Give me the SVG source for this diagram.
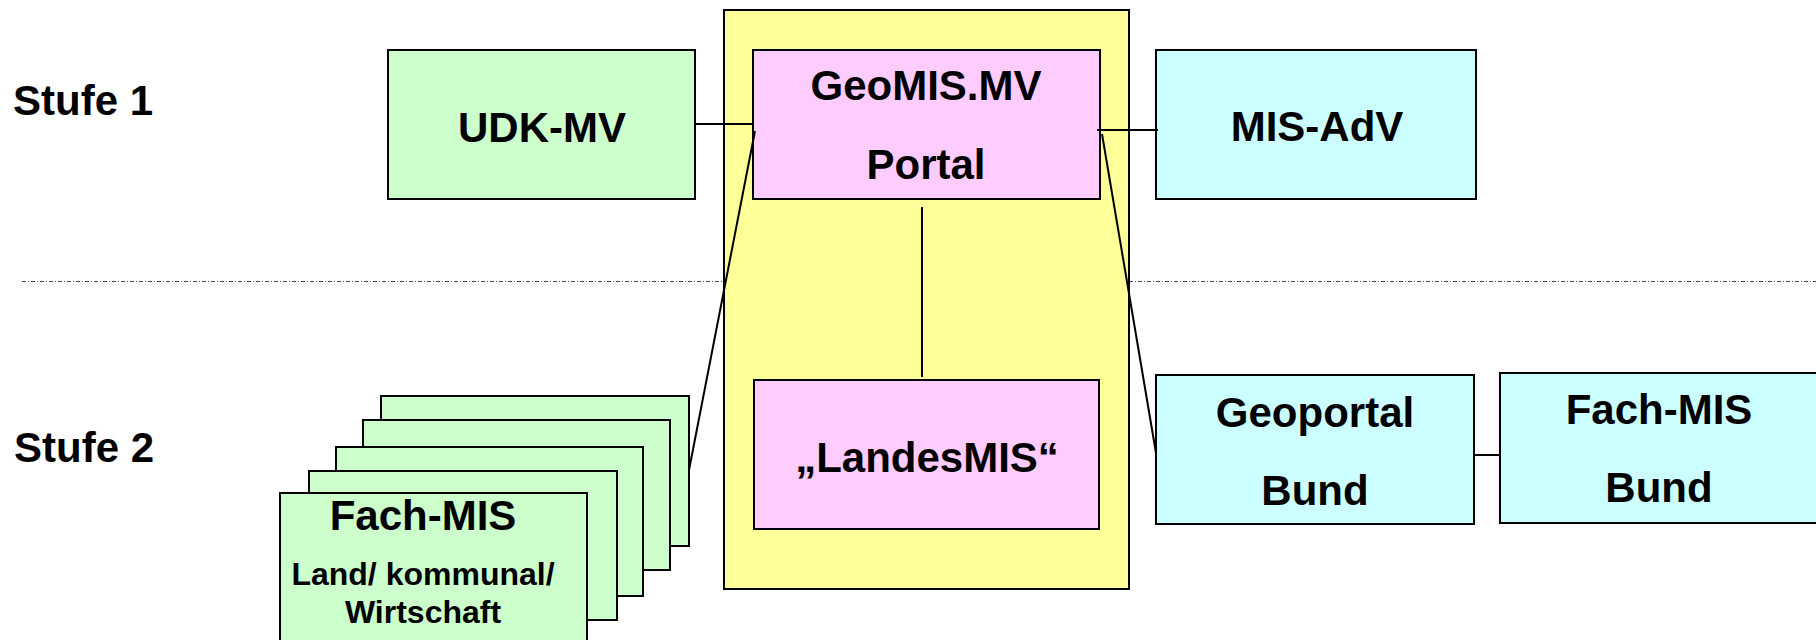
<svg xmlns="http://www.w3.org/2000/svg" width="1816" height="640" viewBox="0 0 1816 640">
<style>
text{font-family:"Liberation Sans",Arial,sans-serif;font-weight:bold;fill:#000;text-anchor:middle}
.lbl{text-anchor:start;font-size:42px}
.t42{font-size:42px}
.t32{font-size:32px}
.box{stroke:#000;stroke-width:2}
.green{fill:#CCFFCC}
.pink{fill:#FFCCFF}
.cyan{fill:#CCFFFF}
.yellow{fill:#FFFF99}
.con{stroke:#000;stroke-width:2;fill:none}
.sep{stroke:#444;stroke-width:1;stroke-dasharray:4 2 1 2;fill:none}
</style>
<rect width="1816" height="640" fill="#fff"/>
<line class="sep" x1="22" y1="281.5" x2="1816" y2="281.5"/>
<text class="lbl" x="13" y="115">Stufe 1</text>
<text class="lbl" x="14" y="462">Stufe 2</text>
<g id="landesebene">
<rect class="box yellow" x="724" y="10" width="405" height="579"/>
</g>
<g id="udk-mv">
<rect class="box green" x="388" y="50" width="307" height="149"/>
<text class="t42" x="542" y="142">UDK-MV</text>
</g>
<g id="geomis-portal">
<rect class="box pink" x="753" y="50" width="347" height="149"/>
<text class="t42" x="926" y="100">GeoMIS.MV</text>
<text class="t42" x="926" y="179">Portal</text>
</g>
<g id="mis-adv">
<rect class="box cyan" x="1156" y="50" width="320" height="149"/>
<text class="t42" x="1317" y="141">MIS-AdV</text>
</g>
<g id="landesmis">
<rect class="box pink" x="754" y="380" width="345" height="149"/>
<text class="t42" x="927" y="472">„LandesMIS“</text>
</g>
<g id="fach-mis-land">
<rect class="box green" x="381" y="396" width="308" height="150"/>
<rect class="box green" x="363" y="420" width="307" height="150"/>
<rect class="box green" x="336" y="447" width="307" height="149"/>
<rect class="box green" x="309" y="471" width="308" height="149"/>
<rect class="box green" x="280" y="493" width="307" height="152"/>
<text class="t42" x="423" y="530">Fach-MIS</text>
<text class="t32" x="423" y="585">Land/ kommunal/</text>
<text class="t32" x="423" y="623">Wirtschaft</text>
</g>
<g id="geoportal-bund">
<rect class="box cyan" x="1156" y="375" width="318" height="149"/>
<text class="t42" x="1315" y="427">Geoportal</text>
<text class="t42" x="1315" y="505">Bund</text>
</g>
<g id="fach-mis-bund">
<rect class="box cyan" x="1500" y="373" width="320" height="150"/>
<text class="t42" x="1659" y="424">Fach-MIS</text>
<text class="t42" x="1659" y="502">Bund</text>
</g>
<g id="connectors">
<line class="con" x1="695" y1="124" x2="753" y2="124"/>
<line class="con" x1="1097" y1="130" x2="1158" y2="130"/>
<line class="con" x1="922" y1="207" x2="922" y2="377"/>
<line class="con" x1="755" y1="131" x2="689" y2="470"/>
<line class="con" x1="1102" y1="134" x2="1156" y2="453"/>
<line class="con" x1="1474" y1="455" x2="1500" y2="455"/>
</g>
</svg>
